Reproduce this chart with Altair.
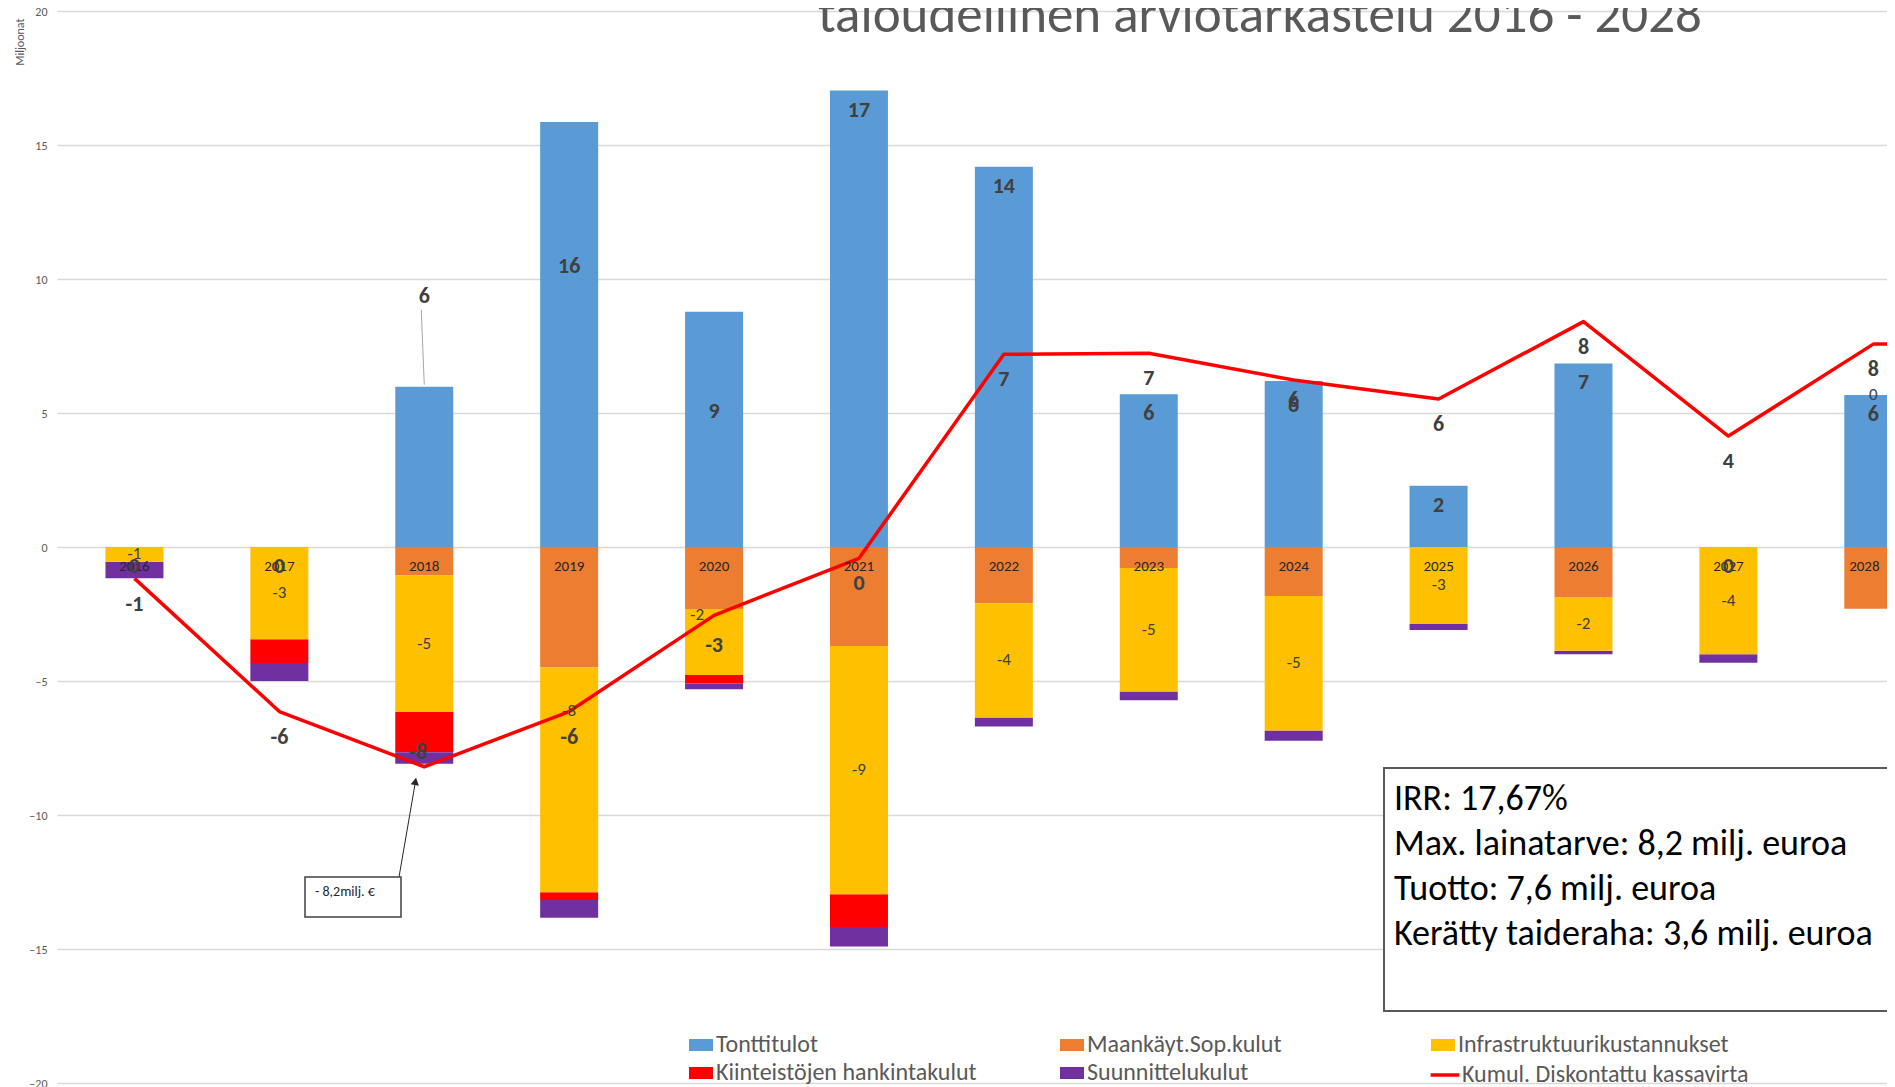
import altair as alt
import pandas as pd

# ---------------- data ----------------
YEARS = [2016, 2017, 2018, 2019, 2020, 2021, 2022, 2023, 2024, 2025, 2026, 2027, 2028]
TONTTITULOT = [0, 0, 5.98, 15.86, 8.78, 17.03, 14.19, 5.70, 6.19, 2.29, 6.85, 0, 5.67]
MAANKAYTTO = [0, 0, -1.06, -4.50, -2.31, -3.69, -2.10, -0.78, -1.83, 0, -1.87, 0, -2.30]
INFRA = [-0.55, -3.44, -5.10, -8.38, -2.47, -9.27, -4.26, -4.61, -5.02, -2.87, -2.00, -4.00, 0]
KIINTEISTOT = [0, -0.89, -1.50, -0.29, -0.31, -1.22, 0, 0, 0, 0, 0, 0, 0]
SUUNNITTELU = [-0.62, -0.67, -0.43, -0.66, -0.22, -0.73, -0.34, -0.33, -0.38, -0.23, -0.13, -0.32, 0]
KUMUL_YEARS = [2016, 2017, 2018, 2019, 2020, 2021, 2022, 2023, 2024, 2025, 2026, 2027, 2028, 2029]
KUMUL = [-1.17, -6.14, -8.20, -6.14, -2.55, -0.42, 7.19, 7.23, 6.23, 5.52, 8.41, 4.14, 7.57, 7.57]

SERIES = ["Tonttitulot", "Maankäyt.Sop.kulut", "Infrastruktuurikustannukset",
          "Kiinteistöjen hankintakulut", "Suunnittelukulut", "Kumul. Diskontattu kassavirta"]
COLORS = ["#5B9BD5", "#ED7D31", "#FFC000", "#FF0000", "#7030A0", "#FF0000"]
Y_TICKS = [-20, -15, -10, -5, 0, 5, 10, 15, 20]
TITLE = "taloudellinen arviotarkastelu 2016 - 2028"
Y_TITLE = "Miljoonat"
INFO_LINES = ["IRR: 17,67%", "Max. lainatarve: 8,2 milj. euroa",
              "Tuotto: 7,6 milj. euroa", "Kerätty taideraha: 3,6 milj. euroa"]
CALLOUT = "- 8,2milj. €"

# ---------------- layout / style ----------------
FONT = "Carlito, Lato, sans-serif"
PAD_L, PAD_T, PAD_R, PAD_B = 49, 3, 0, 4
PLOT_W, PLOT_H = 1830, 1072
BAND_PX = 145.7
X_MIN = 2015.5
X_MAX = X_MIN + PLOT_W / BAND_PX
Y_MIN, Y_MAX = -20, 20
PXU = PLOT_H / (Y_MAX - Y_MIN)
BAR_PX = 58
LABEL_DARK = "#404040"
COLOR_OF = dict(zip(SERIES, COLORS))

xscale = alt.Scale(domain=[X_MIN, X_MAX], nice=False, zero=False)
yscale = alt.Scale(domain=[Y_MIN, Y_MAX], nice=False, zero=False)
yaxis = alt.Axis(values=Y_TICKS, grid=True, gridColor="#D9D9D9", gridWidth=1.3,
                 domain=False, ticks=False, labelColor="#595959", labelFont=FONT,
                 labelFontSize=12, labelPadding=10, title=Y_TITLE, titleFont=FONT,
                 titleFontSize=12, titleFontWeight="normal", titleColor="#595959",
                 titleAngle=-90, titleAlign="right", titleBaseline="bottom",
                 titleX=-31, titleY=7)


def fmt(v):
    r = int(round(v))
    return "0" if r == 0 else str(r)


def X(field):
    return alt.X(field, type="quantitative", scale=xscale, axis=None)


def Y(field):
    return alt.Y(field, type="quantitative", scale=yscale, axis=yaxis)


# stacked segments
rows = []
for i, yr in enumerate(YEARS):
    if TONTTITULOT[i]:
        rows.append(dict(year=yr, series=SERIES[0], y0=0.0, y1=TONTTITULOT[i]))
    base = 0.0
    for name, arr in zip(SERIES[1:5], [MAANKAYTTO, INFRA, KIINTEISTOT, SUUNNITTELU]):
        v = arr[i]
        if v:
            rows.append(dict(year=yr, series=name, y0=base, y1=base + v))
            base += v
bars_df = pd.DataFrame(rows)

line_df = pd.DataFrame({"year": KUMUL_YEARS, "value": KUMUL, "series": SERIES[5]})

# label offsets (pixels) – style overrides for dragged Excel labels
BLUE_DY = {2018: -91, 2019: 144, 2020: 99}
LINE_DY = {2016: 26, 2018: -15, 2020: 30}
LINE_DX = {2018: -6}
INFRA_DY = {2019: -69, 2020: -27}
INFRA_DX = {2020: -17}
YEAR_DX = {2028: -9}

blue_lab = pd.DataFrame([
    dict(lx=yr, ly=v - BLUE_DY.get(yr, 19) / PXU, txt=fmt(v))
    for yr, v in zip(YEARS, TONTTITULOT)])
line_lab = pd.DataFrame([
    dict(lx=yr + LINE_DX.get(yr, 0) / BAND_PX, ly=v - LINE_DY.get(yr, 25) / PXU, txt=fmt(v))
    for yr, v in zip(KUMUL_YEARS[:len(YEARS)], KUMUL[:len(YEARS)])])

# infrastructure labels: segment centre; a zero value sits on top of the positive stack (Excel)
infra_rows = []
for i, yr in enumerate(YEARS):
    v = INFRA[i]
    if v:
        y0 = MAANKAYTTO[i]
        centre = y0 + v / 2
    else:
        centre = TONTTITULOT[i]
    infra_rows.append(dict(lx=yr + INFRA_DX.get(yr, 0) / BAND_PX,
                           ly=centre - INFRA_DY.get(yr, 0) / PXU, txt=fmt(v)))
infra_lab = pd.DataFrame(infra_rows)

year_lab = pd.DataFrame({"lx": [y + YEAR_DX.get(y, 0) / BAND_PX for y in YEARS],
                         "ly": [0 - 19 / PXU] * len(YEARS),
                         "txt": [str(y) for y in YEARS]})
v18 = TONTTITULOT[YEARS.index(2018)]
leader_df = pd.DataFrame([dict(xa=2018 - 3 / BAND_PX, xb=2018.0,
                               ya=v18 + (91 - 14) / PXU, yb=v18 + 2 / PXU)])

# ---------------- legends: one small legend per Excel legend column ----------------
RECT_PATH = "M-1,-0.5H1V0.5H-1Z"
LINE_PATH = "M-1.2,0H1.2"
LEG_COL_X = [632, 1003, 1374]
LEG_ROW_Y = [1022, 1050]


def legend_for(col, row, line=False):
    kw = dict(title=None, orient="none", legendX=LEG_COL_X[col], legendY=LEG_ROW_Y[row],
              direction="vertical", rowPadding=4, symbolSize=576,
              labelFont=FONT, labelFontSize=24, labelColor="#595959",
              labelOffset=3, labelLimit=500)
    if line:
        kw.update(symbolType=LINE_PATH, symbolStrokeWidth=3.5,
                  symbolStrokeColor="#FF0000")
    else:
        kw.update(symbolType=RECT_PATH, symbolStrokeWidth=0)
    return alt.Legend(**kw)


def color_enc(names, legend):
    return alt.Color("series:N", legend=legend,
                     scale=alt.Scale(domain=names, range=[COLOR_OF[n] for n in names]))


BAR_GROUPS = [([SERIES[0], SERIES[3]], 0), ([SERIES[1], SERIES[4]], 1), ([SERIES[2]], 2)]

bar_layers = []
for names, col in BAR_GROUPS:
    bar_layers.append(
        alt.Chart(bars_df[bars_df.series.isin(names)]).mark_bar(size=BAR_PX, clip=True).encode(
            x=X("year"), y=Y("y0"), y2="y1", color=color_enc(names, legend_for(col, 0))))

line = alt.Chart(line_df).mark_line(strokeWidth=3.5, strokeJoin="round", clip=True).encode(
    x=X("year"), y=Y("value"), color=color_enc([SERIES[5]], legend_for(2, 1, line=True)))

one = pd.DataFrame({"k": [0]})

year_text = alt.Chart(year_lab).mark_text(
    font=FONT, fontSize=15, color="#262626", baseline="middle").encode(
    x=X("lx"), y=Y("ly"), text="txt:N")

infra_text = alt.Chart(infra_lab).mark_text(
    font=FONT, fontSize=17, color=LABEL_DARK, baseline="middle").encode(
    x=X("lx"), y=Y("ly"), text="txt:N")

blue_text = alt.Chart(blue_lab).mark_text(
    font=FONT, fontSize=22, fontWeight="bold", color=LABEL_DARK, baseline="middle").encode(
    x=X("lx"), y=Y("ly"), text="txt:N")

line_text = alt.Chart(line_lab).mark_text(
    font=FONT, fontSize=22, fontWeight="bold", color=LABEL_DARK, baseline="middle").encode(
    x=X("lx"), y=Y("ly"), text="txt:N")

leader = alt.Chart(leader_df).mark_rule(color="#A6A6A6", strokeWidth=1).encode(
    x=X("xa"), x2="xb", y=Y("ya"), y2="yb")

# callout "- 8,2milj. €" with arrow
arrow = alt.Chart(one).mark_rule(color="#262626", strokeWidth=1).encode(
    x=alt.value(342), y=alt.value(866), x2=alt.value(358.4), y2=alt.value(771))
arrow_head = alt.Chart(one).mark_point(
    shape="triangle-up", filled=True, size=70, angle=10, color="#262626", opacity=1).encode(
    x=alt.value(358.4), y=alt.value(770.4))
callout_box = alt.Chart(one).mark_rect(fill="white", stroke="#404040", strokeWidth=1.5).encode(
    x=alt.value(248), x2=alt.value(344), y=alt.value(866), y2=alt.value(906))
callout_text = alt.Chart(pd.DataFrame({"t": [CALLOUT]})).mark_text(
    font=FONT, fontSize=14, color="#262626", align="left", baseline="middle").encode(
    x=alt.value(258), y=alt.value(881), text="t:N")

# info box
info_box = alt.Chart(one).mark_rect(fill="white", stroke="#595959", strokeWidth=2).encode(
    x=alt.value(1327), x2=alt.value(1900), y=alt.value(757), y2=alt.value(1000))
info_text = alt.Chart(pd.DataFrame({"t": ["\n".join(INFO_LINES)]})).mark_text(
    font=FONT, fontSize=36, color="#000000", align="left", baseline="alphabetic",
    lineBreak="\n", lineHeight=45).encode(
    x=alt.value(1337), y=alt.value(799), text="t:N")

title_text = alt.Chart(pd.DataFrame({"t": [TITLE]})).mark_text(
    font=FONT, fontSize=53, color="#595959", align="left", baseline="alphabetic").encode(
    x=alt.value(761), y=alt.value(21), text="t:N")

chart = alt.layer(
    *bar_layers, line, year_text, infra_text, blue_text, line_text, leader,
    arrow, arrow_head, callout_box, callout_text, info_box, info_text, title_text
).resolve_scale(
    color="independent"
).properties(
    width=PLOT_W, height=PLOT_H,
    autosize=alt.AutoSizeParams(type="none"),
    padding={"left": PAD_L, "top": PAD_T, "right": PAD_R, "bottom": PAD_B},
    background="white",
).configure_view(stroke=None)

chart.save("out.html", embed_options={"renderer": "svg", "actions": False})
